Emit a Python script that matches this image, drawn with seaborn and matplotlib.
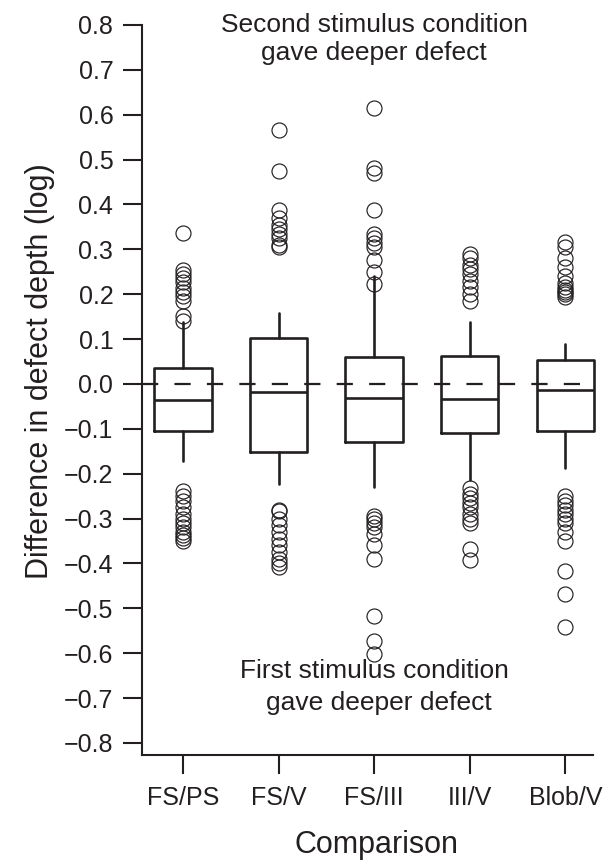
import matplotlib
matplotlib.use("Agg")
import matplotlib.pyplot as plt
import seaborn as sns
import numpy as np

# ---------------- data ----------------
categories = ["FS/PS", "FS/V", "FS/III", "III/V", "Blob/V"]
q1 = [-0.104, -0.151, -0.129, -0.110, -0.104]
medians = [-0.035, -0.019, -0.032, -0.034, -0.014]
q3 = [0.036, 0.103, 0.059, 0.063, 0.053]
whisker_low = [-0.172, -0.224, -0.230, -0.215, -0.187]
whisker_high = [0.137, 0.159, 0.241, 0.137, 0.089]

outliers_fs_ps = [0.336, 0.253, 0.245, 0.236, 0.226, 0.214, 0.205, 0.196, 0.185, 0.152, 0.140,
                  -0.239, -0.250, -0.262, -0.275, -0.290, -0.300, -0.310, -0.320, -0.330, -0.336, -0.343, -0.350]
outliers_fs_v = [0.565, 0.475, 0.387, 0.370, 0.355, 0.345, 0.335, 0.325, 0.310, 0.305,
                 -0.280, -0.284, -0.300, -0.315, -0.330, -0.345, -0.360, -0.375, -0.390, -0.400, -0.407]
outliers_fs_iii = [0.615, 0.482, 0.470, 0.387, 0.335, 0.325, 0.315, 0.305, 0.275, 0.249, 0.223,
                   -0.295, -0.300, -0.310, -0.320, -0.335, -0.358, -0.390, -0.518, -0.572, -0.603]
outliers_iii_v = [0.290, 0.280, 0.265, 0.255, 0.245, 0.230, 0.215, 0.200, 0.185,
                  -0.232, -0.245, -0.255, -0.265, -0.275, -0.290, -0.300, -0.310, -0.369, -0.393]
outliers_blob_v = [0.316, 0.305, 0.280, 0.260, 0.240, 0.225, 0.215, 0.210, 0.205, 0.200, 0.193,
                   -0.250, -0.260, -0.270, -0.280, -0.290, -0.300, -0.310, -0.330, -0.349, -0.418, -0.469, -0.541]
outliers = [outliers_fs_ps, outliers_fs_v, outliers_fs_iii, outliers_iii_v, outliers_blob_v]

yticks = [-0.8, -0.7, -0.6, -0.5, -0.4, -0.3, -0.2, -0.1, 0.0, 0.1, 0.2, 0.3, 0.4, 0.5, 0.6, 0.7, 0.8]

# ---------------- style ----------------
sns.set_style("ticks")
plt.rcParams["font.family"] = ["Liberation Sans", "DejaVu Sans"]
ink = "#231f20"

fig = plt.figure(figsize=(6.14, 8.61), dpi=100)
ax = fig.add_axes([0.231, 0.1231, 0.735, 0.848])

stats = []
for i, c in enumerate(categories):
    stats.append(dict(label=c, q1=q1[i], med=medians[i], q3=q3[i],
                      whislo=whisker_low[i], whishi=whisker_high[i],
                      fliers=np.array(outliers[i])))

art = ax.bxp(stats, positions=np.arange(len(categories)), widths=0.6,
             showcaps=False, patch_artist=False,
             boxprops=dict(color=ink, linewidth=1.9),
             medianprops=dict(color=ink, linewidth=1.9),
             whiskerprops=dict(color=ink, linewidth=1.9),
             flierprops=dict(marker="o", markersize=10.8, markerfacecolor="none",
                             markeredgecolor=ink, markeredgewidth=0.85, linestyle="none"),
             manage_ticks=False)
for key in art:
    for a in art[key]:
        a.set_clip_on(False)

ax.axhline(0.0, color=ink, linewidth=1.6, linestyle=(0, (7.3, 7.3)), zorder=5)

ax.set_xlim(-0.43, 4.29)
ax.set_ylim(-0.827, 0.8)
ax.set_xticks(np.arange(len(categories)))
ax.set_xticklabels(categories)
ax.set_yticks(yticks)
ax.set_yticklabels([("\u2212%.1f" % abs(v)) if v < 0 else "%.1f" % v for v in yticks])

ax.tick_params(axis="both", which="major", length=13.5, width=1.5, color=ink,
               labelcolor=ink, labelsize=18)
ax.tick_params(axis="y", pad=7)
ax.tick_params(axis="x", pad=9)
sns.despine(ax=ax)
for s in ["left", "bottom"]:
    ax.spines[s].set_linewidth(1.5)
    ax.spines[s].set_color(ink)

# annotations
ax.text(2.0, 0.785, "Second stimulus condition", ha="center", va="baseline",
        fontsize=19, color=ink)
ax.text(2.0, 0.722, "gave deeper defect", ha="center", va="baseline",
        fontsize=19, color=ink)
ax.text(2.0, -0.655, "First stimulus condition", ha="center", va="baseline",
        fontsize=19, color=ink)
ax.text(2.05, -0.727, "gave deeper defect", ha="center", va="baseline",
        fontsize=19, color=ink)

fig.text(40 / 614, 1 - 371 / 861, "Difference in defect depth (log)", rotation=90,
         ha="center", va="center", fontsize=22, color=ink)
fig.text(376 / 614, 1 - 853 / 861, "Comparison", ha="center", va="baseline",
         fontsize=22, color=ink)

fig.savefig("out.png", dpi=100)
